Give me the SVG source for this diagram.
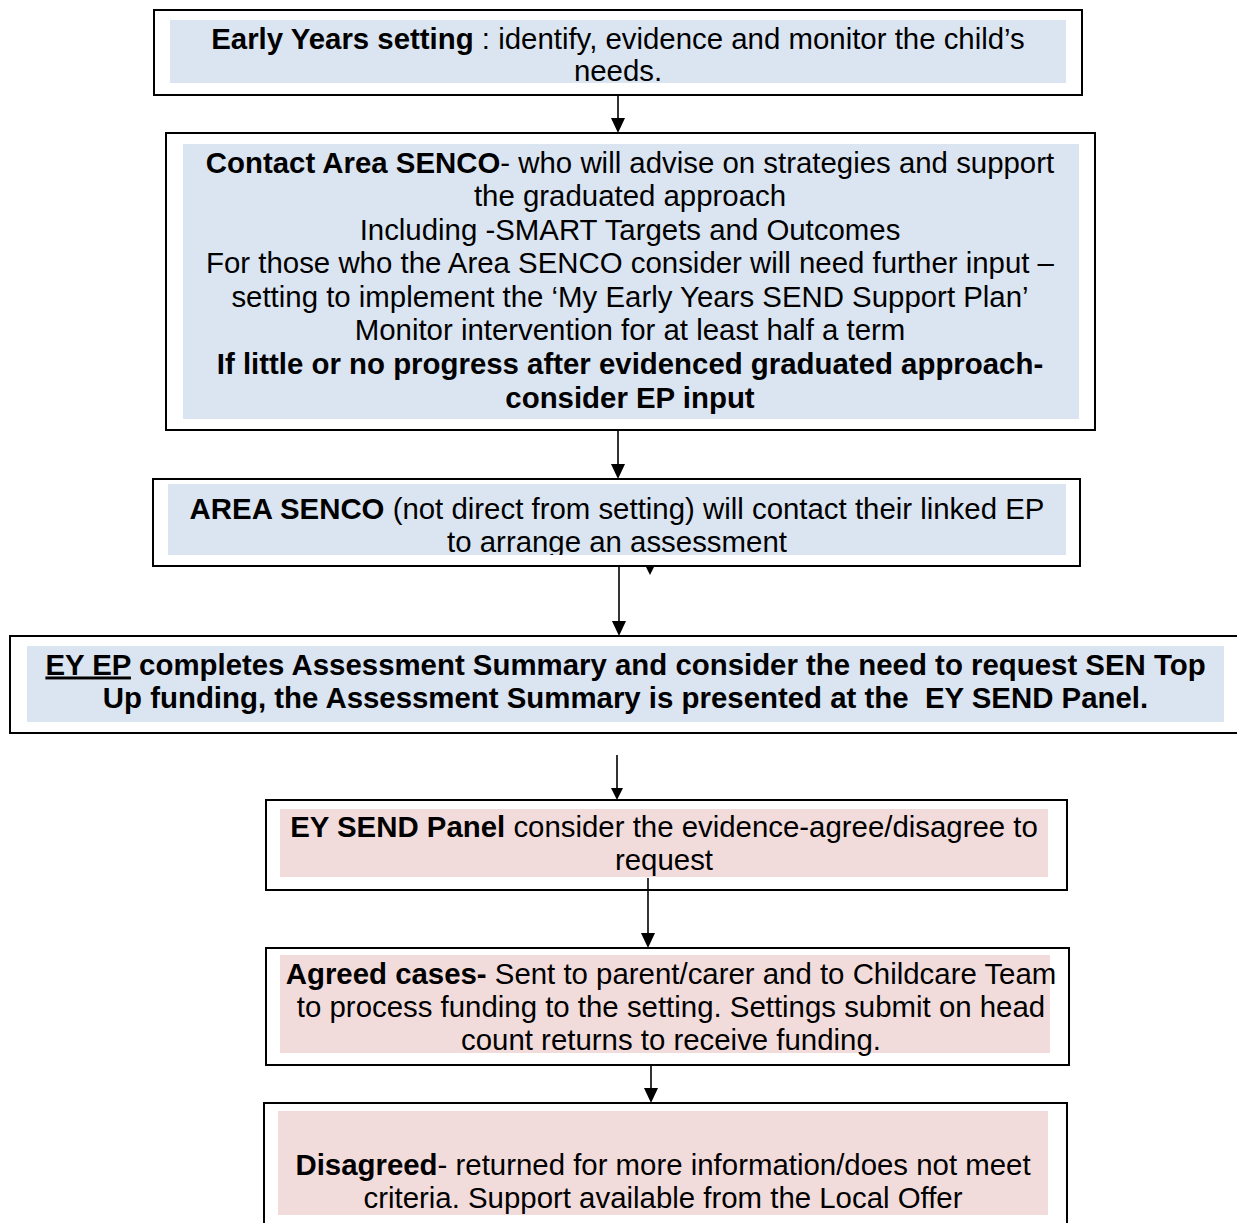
<svg xmlns="http://www.w3.org/2000/svg" width="1237" height="1223" viewBox="0 0 1237 1223">
<style>
.box{fill:#ffffff;stroke:#000000;stroke-width:2}
.blue{fill:#dbe5f1}
.pink{fill:#f2dcdb}
text{font-family:"Liberation Sans",Arial,sans-serif;font-size:29.4px;fill:#000000;text-anchor:middle}
.b{font-weight:bold}
.ln{stroke:#000000;stroke-width:1.6;fill:none}
.hd{fill:#000000}
</style>
<defs>
<clipPath id="c3"><rect x="168" y="484" width="898" height="71"/></clipPath>
</defs>
<rect width="1237" height="1223" fill="#ffffff"/>
<g id="n1">
<rect class="box" x="154" y="10" width="928" height="85"/>
<rect class="blue" x="170" y="20" width="896" height="63"/>
<text x="618" y="48.5"><tspan class="b">Early Years setting</tspan> : identify, evidence and monitor the child’s</text>
<text x="618" y="80.5">needs.</text>
</g>
<g id="n2">
<rect class="box" x="166" y="133" width="929" height="297"/>
<rect class="blue" x="183" y="144" width="896" height="275"/>
<text x="630" y="172.5"><tspan class="b">Contact Area SENCO</tspan>- who will advise on strategies and support</text>
<text x="630" y="206">the graduated approach</text>
<text x="630" y="239.5">Including -SMART Targets and Outcomes</text>
<text x="630" y="273.2">For those who the Area SENCO consider will need further input –</text>
<text x="630" y="306.8">setting to implement the ‘My Early Years SEND Support Plan’</text>
<text x="630" y="340.4">Monitor intervention for at least half a term</text>
<text x="630" y="374" class="b">If little or no progress after evidenced graduated approach-</text>
<text x="630" y="407.6" class="b">consider EP input</text>
</g>
<g id="n3">
<rect class="box" x="153" y="479" width="927" height="87"/>
<rect class="blue" x="168" y="484" width="898" height="71"/>
<g clip-path="url(#c3)">
<text x="617" y="518.5"><tspan class="b">AREA SENCO</tspan> (not direct from setting) will contact their linked EP</text>
<text x="617" y="551.5">to arrange an assessment</text>
</g>
</g>
<g id="n4">
<rect class="box" x="10" y="636" width="1230" height="97"/>
<rect class="blue" x="27" y="646" width="1197" height="76"/>
<text x="625.5" y="674.5" class="b"><tspan text-decoration="underline">EY EP</tspan> completes Assessment Summary and consider the need to request SEN Top</text>
<text x="625.5" y="707.5" class="b">Up funding, the Assessment Summary is presented at the &#160;EY SEND Panel.</text>
</g>
<g id="n5">
<rect class="box" x="266" y="800" width="801" height="90"/>
<rect class="pink" x="280" y="809" width="768" height="68"/>
<text x="664" y="836.5"><tspan class="b">EY SEND Panel</tspan> consider the evidence-agree/disagree to</text>
<text x="664" y="869.5">request</text>
</g>
<g id="n6">
<rect class="box" x="266" y="948" width="803" height="117"/>
<rect class="pink" x="280" y="955" width="770" height="98"/>
<text x="671" y="983.5"><tspan class="b">Agreed cases-</tspan> Sent to parent/carer and to Childcare Team</text>
<text x="671" y="1016.5">to process funding to the setting. Settings submit on head</text>
<text x="671" y="1049.5">count returns to receive funding.</text>
</g>
<g id="n7">
<rect class="box" x="264" y="1103" width="803" height="140"/>
<rect class="pink" x="278" y="1111" width="770" height="104"/>
<text x="663" y="1174.5"><tspan class="b">Disagreed</tspan>- returned for more information/does not meet</text>
<text x="663" y="1207.5">criteria. Support available from the Local Offer</text>
</g>
<g id="connectors">
<line class="ln" x1="618" y1="95" x2="618" y2="120"/>
<polygon class="hd" points="611,118 625,118 618,133"/>
<line class="ln" x1="618" y1="430" x2="618" y2="465"/>
<polygon class="hd" points="611,464 625,464 618,479"/>
<line class="ln" x1="619" y1="566" x2="619" y2="622"/>
<polygon class="hd" points="612,621 626,621 619,636"/>
<polygon class="hd" points="646,567 654,567 650,575"/>
<line class="ln" x1="617" y1="755" x2="617" y2="790"/>
<polygon class="hd" points="611,788 623,788 617,800"/>
<line class="ln" x1="648" y1="878" x2="648" y2="934"/>
<polygon class="hd" points="641,933 655,933 648,948"/>
<line class="ln" x1="651" y1="1065" x2="651" y2="1090"/>
<polygon class="hd" points="644,1088 658,1088 651,1103"/>
</g>
</svg>
